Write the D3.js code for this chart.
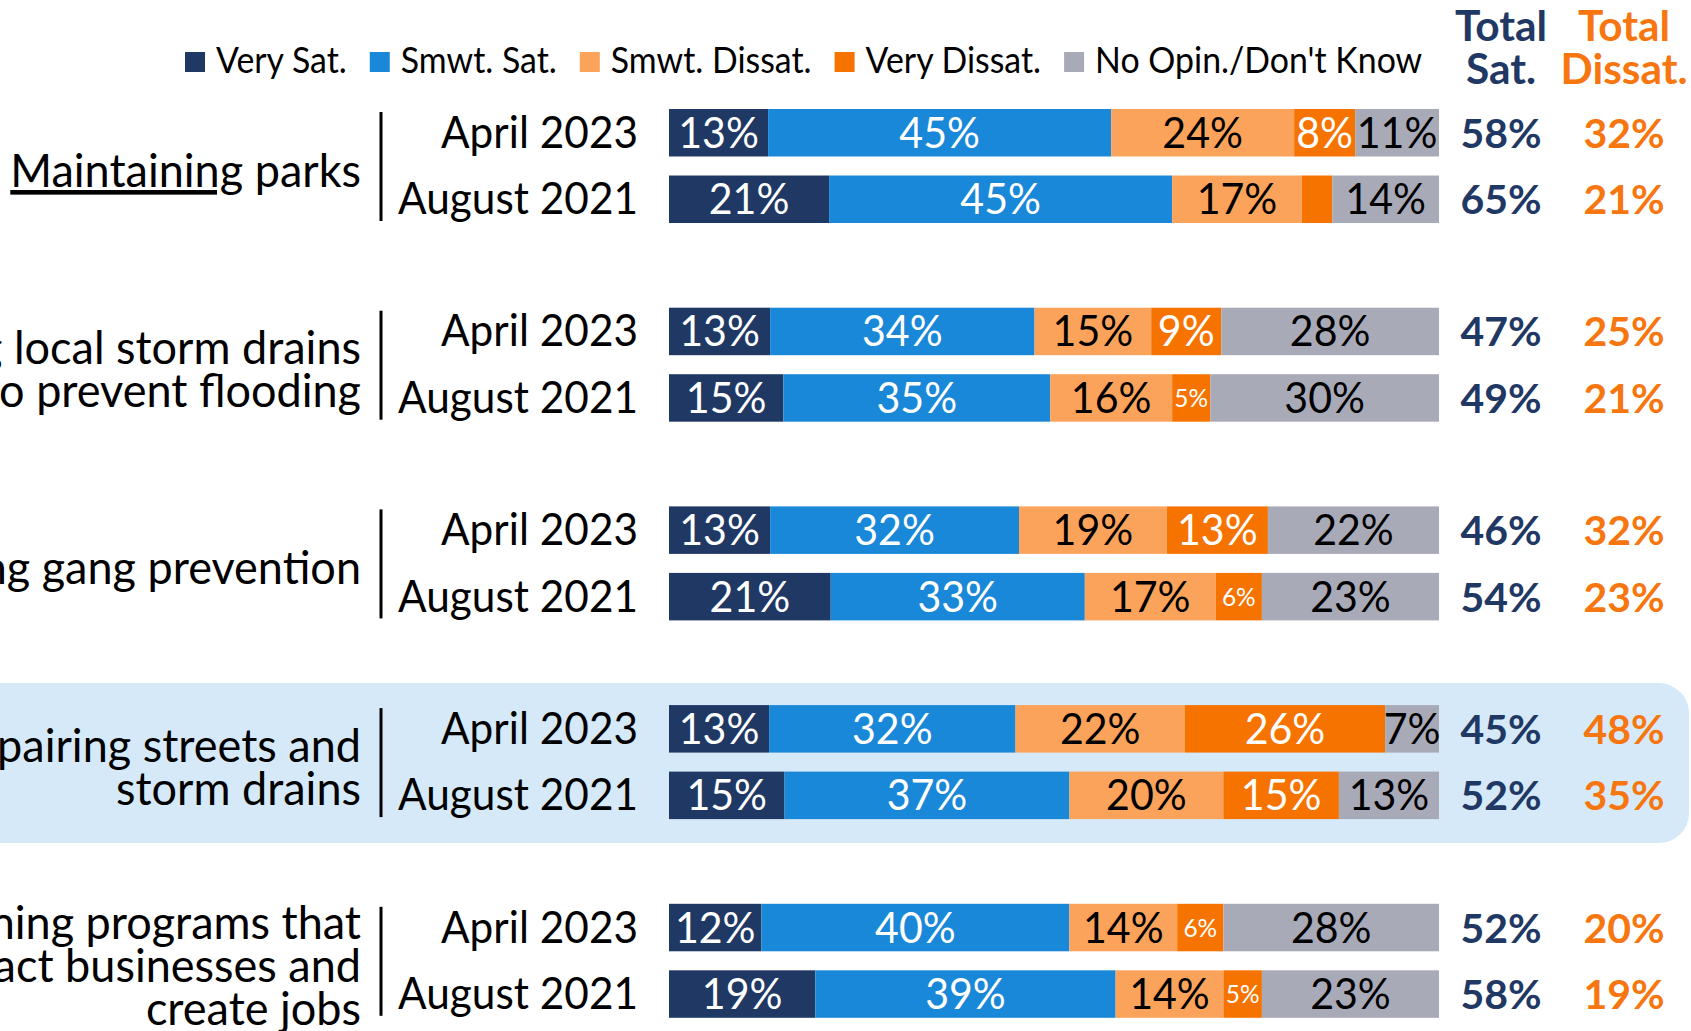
<!DOCTYPE html>
<html>
<head>
<meta charset="utf-8">
<script src="https://cdn.jsdelivr.net/npm/d3@7"></script>
<style>
  html, body { margin: 0; padding: 0; background: #ffffff; overflow: hidden; }
  svg { display: block; }
  text { font-family: Lato, "Open Sans", "Noto Sans", sans-serif; }
</style>
</head>
<body>
<svg id="chart" width="1691" height="1031"></svg>
<script>
// ---- data ---------------------------------------------------------------
const seriesNames = ["Very Sat.", "Smwt. Sat.", "Smwt. Dissat.", "Very Dissat.", "No Opin./Don't Know"];
const waves = ["April 2023", "August 2021"];
const categories = [
  "Maintaining parks",
  "Maintaining local storm drains to prevent flooding",
  "Funding gang prevention",
  "Repairing streets and storm drains",
  "Job training programs that attract businesses and create jobs"
];
const categoryLines = [
  ["Maintaining parks"],
  ["Maintaining local storm drains", "to prevent flooding"],
  ["Funding gang prevention"],
  ["Repairing streets and", "storm drains"],
  ["Job training programs that", "attract businesses and", "create jobs"]
];
const highlighted = "Repairing streets and storm drains";

// one entry per category, [April 2023, August 2021]
const verySat      = [[13, 21], [13, 15], [13, 21], [13, 15], [12, 19]];
const smwtSat      = [[45, 45], [34, 35], [32, 33], [32, 37], [40, 39]];
const smwtDissat   = [[24, 17], [15, 16], [19, 17], [22, 20], [14, 14]];
const veryDissat   = [[8, 4],   [9, 5],   [13, 6],  [26, 15], [6, 5]];
const noOpinion    = [[11, 14], [28, 30], [22, 23], [7, 13],  [28, 23]];
const totalSat     = [[58, 65], [47, 49], [46, 54], [45, 52], [52, 58]];
const totalDissat  = [[32, 21], [25, 21], [32, 23], [48, 35], [20, 19]];

// ---- styling -------------------------------------------------------------
const seriesColors = ["#1f3864", "#1a88d8", "#fba35a", "#f77300", "#a9aab8"];
const labelColors  = ["#ffffff", "#ffffff", "#000000", "#ffffff", "#000000"];
const satColor = "#1f3864";
const dissatColor = "#f7760f";

const svg = d3.select("#chart");

// rows: one per category x wave
const seriesData = [verySat, smwtSat, smwtDissat, veryDissat, noOpinion];
const rows = [];
categories.forEach((cat, ci) => {
  waves.forEach((w, wi) => {
    const vals = seriesData.map(s => s[ci][wi]);
    rows.push({
      category: cat, wave: w, values: vals,
      totalSat: totalSat[ci][wi], totalDissat: totalDissat[ci][wi]
    });
  });
});

// ---- scales --------------------------------------------------------------
const barLeft = 669, barRight = 1439;
const yGroup = d3.scaleBand().domain(categories).range([109, 109 + 198.7 * categories.length]);
const yWave = d3.scaleBand().domain(waves).range([0, 114]).paddingInner(0.286);
const rowTop = r => yGroup(r.category) + yWave(r.wave);
const rowMid = r => rowTop(r) + yWave.bandwidth() / 2;

// Horizontal condensing so the sans face sets as narrow as the deck's body font
const probe = svg.append("text").attr("font-size", 45).text("April 2023");
const condense = Math.min(1, 197 / probe.node().getComputedTextLength());
probe.remove();

function place(sel, x, y, sx = condense) {
  return sel.attr("transform", `translate(${x},${y}) scale(${sx},1)`);
}

// ---- highlight band ------------------------------------------------------
svg.append("rect")
  .attr("x", -60)
  .attr("y", yGroup(highlighted) - 22)
  .attr("width", 1689 + 60)
  .attr("height", 160)
  .attr("rx", 30).attr("ry", 30)
  .attr("fill", "#d5e9f8");

// ---- legend --------------------------------------------------------------
const legend = svg.append("g");
let lx = 185;
seriesNames.forEach((name, i) => {
  legend.append("rect")
    .attr("x", lx).attr("y", 52).attr("width", 20).attr("height", 20)
    .attr("fill", seriesColors[i]);
  const t = legend.append("text")
    .attr("font-size", 36).attr("fill", "#000")
    .text(name);
  place(t, lx + 31, 73);
  lx += 31 + t.node().getComputedTextLength() * condense + 23;
});

// ---- column headers ------------------------------------------------------
const satX = 1501, dissatX = 1624;
[["Total", "Sat.", satX, satColor], ["Total", "Dissat.", dissatX, dissatColor]].forEach(h => {
  [h[0], h[1]].forEach((line, li) => {
    const t = svg.append("text")
      .attr("text-anchor", "middle").attr("font-weight", 700)
      .attr("font-size", 42).attr("fill", h[3]).text(line);
    place(t, h[2], 41 + li * 43, 1.01);
  });
});

// ---- category labels and separators --------------------------------------
categories.forEach((cat, ci) => {
  const top = yGroup(cat);
  const mid = top + 114 / 2;
  const lines = categoryLines[ci];
  lines.forEach((line, li) => {
    const t = svg.append("text")
      .attr("text-anchor", "end").attr("font-size", 46).attr("fill", "#000");
    if (ci === 0) {
      const [first, ...rest] = line.split(" ");
      t.append("tspan").attr("text-decoration", "underline").text(first);
      t.append("tspan").text(" " + rest.join(" "));
    } else {
      t.text(line);
    }
    place(t, 361, mid + 21 + (li - (lines.length - 1) / 2) * 43, condense * 1.04);
  });
  svg.append("line")
    .attr("x1", 381).attr("x2", 381)
    .attr("y1", top + 3).attr("y2", top + 114 - 2)
    .attr("stroke", "#000").attr("stroke-width", 3);
});

// ---- rows ----------------------------------------------------------------
rows.forEach(r => {
  const sum = d3.sum(r.values);
  const x = d3.scaleLinear().domain([0, sum]).range([barLeft, barRight]);
  const starts = d3.cumsum([0, ...r.values]);
  const top = rowTop(r), mid = rowMid(r);

  // wave label
  place(svg.append("text").attr("text-anchor", "end").attr("font-size", 45)
    .attr("fill", "#000").text(r.wave), 638, mid + 15);

  const g = svg.append("g");
  r.values.forEach((v, si) => {
    const x0 = x(starts[si]), x1 = x(starts[si] + v);
    g.append("rect")
      .attr("x", x0).attr("y", top)
      .attr("width", x1 - x0).attr("height", yWave.bandwidth())
      .attr("fill", seriesColors[si]);
    if (v >= 5) {
      const small = v <= 6;
      const t = g.append("text")
        .attr("text-anchor", "middle")
        .attr("font-size", small ? 25 : 42)
        .attr("fill", labelColors[si])
        .text(v + "%");
      place(t, (x0 + x1) / 2, mid + (small ? 9 : 15), condense * 1.04);
    }
  });

  place(svg.append("text").attr("text-anchor", "middle").attr("font-weight", 700)
    .attr("font-size", 41).attr("fill", satColor).text(r.totalSat + "%"), satX, mid + 15, 1);
  place(svg.append("text").attr("text-anchor", "middle").attr("font-weight", 700)
    .attr("font-size", 41).attr("fill", dissatColor).text(r.totalDissat + "%"), dissatX, mid + 15, 1);
});
</script>
</body>
</html>
